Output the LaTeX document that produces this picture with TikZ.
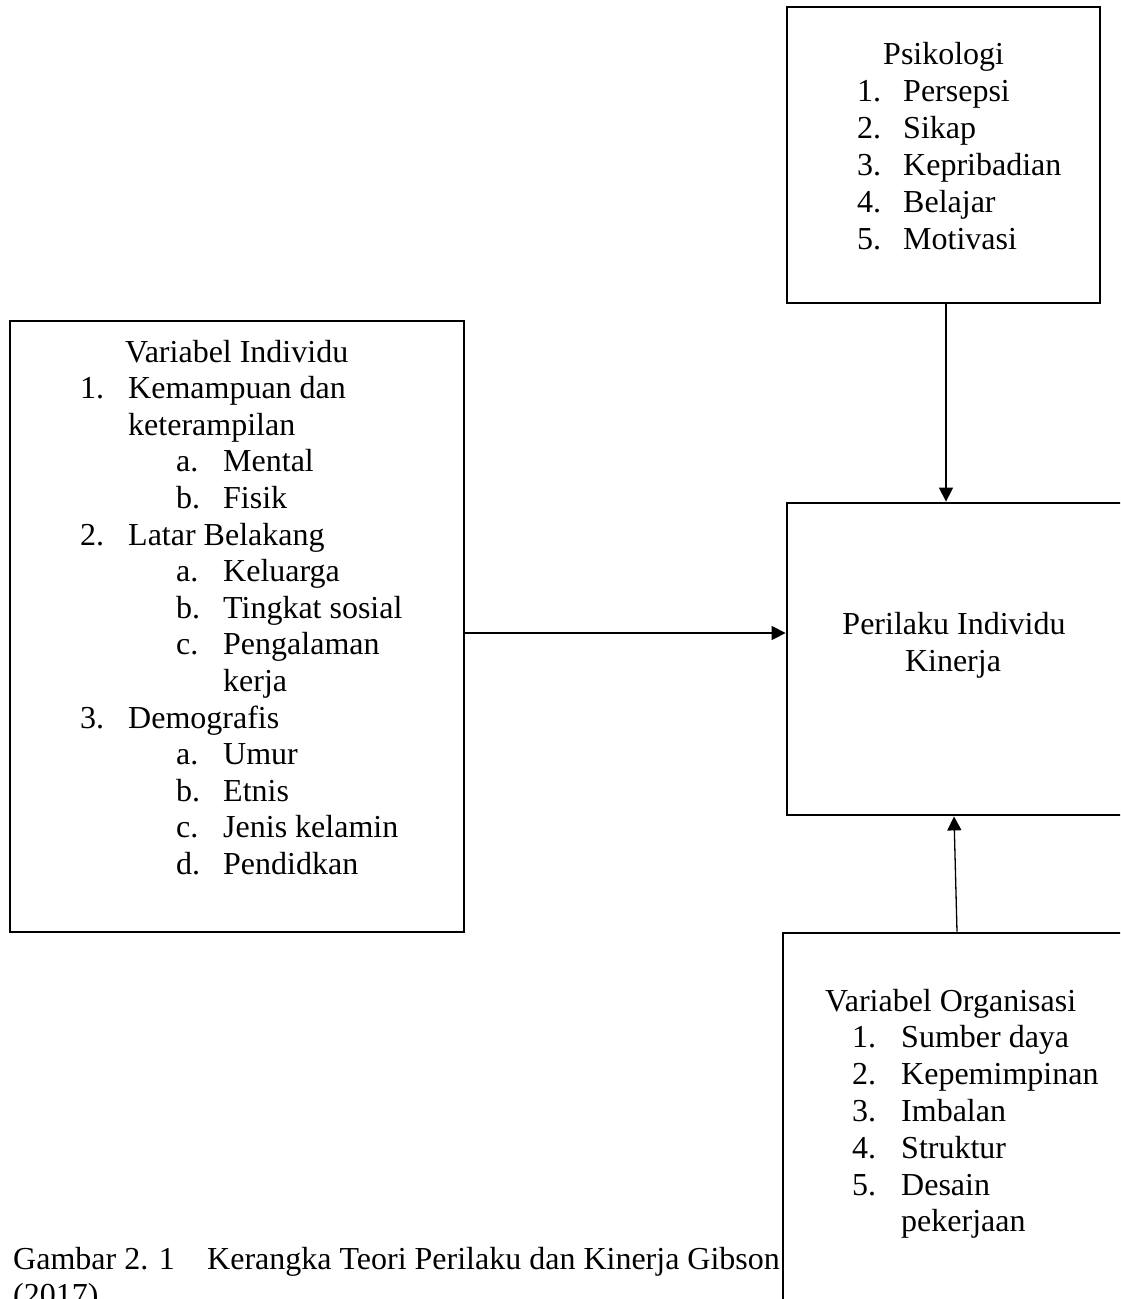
\documentclass[tikz,border=0pt]{standalone}
\usepackage{fontspec}
\setmainfont{Liberation Serif}
\usetikzlibrary{arrows.meta}
\begin{document}
\begin{tikzpicture}[x=1pt,y=-1pt,
  box/.style={draw=black, line width=2.8pt, fill=none, inner sep=0pt, rectangle},
  txt/.style={anchor=base west, inner sep=0pt, font=\fontsize{32}{36.8}\selectfont},
  ctxt/.style={anchor=base, inner sep=0pt, font=\fontsize{32}{36.8}\selectfont},
  arr/.style={line width=1.3pt, -{Triangle[length=14pt,width=14pt]}}]
\useasboundingbox (0,0) rectangle (1120,1299);
\clip (0,0) rectangle (1120,1299);
\fill[white] (0,0) rectangle (1120,1299);
% boxes
\node[box, minimum width=313pt, minimum height=296pt] (psik) at (943.5,155) {};
\node[box, minimum width=454pt, minimum height=611pt] (indiv) at (237,626.5) {};
\node[box, minimum width=338pt, minimum height=312pt] (peri) at (956,659) {};
\node[box, minimum width=357pt, minimum height=400pt] (org) at (961.5,1133) {};
% Psikologi
\node[txt] (p0) at (883,64) {Psikologi};
\node[txt] (p1n) at (857,101) {1.}; \node[txt] (p1) at (903,101) {Persepsi};
\node[txt] (p2n) at (857,138) {2.}; \node[txt] (p2) at (903,138) {Sikap};
\node[txt] (p3n) at (857,175) {3.}; \node[txt] (p3) at (903,175) {Kepribadian};
\node[txt] (p4n) at (857,212) {4.}; \node[txt] (p4) at (903,212) {Belajar};
\node[txt] (p5n) at (857,249) {5.}; \node[txt] (p5) at (903,249) {Motivasi};
% Variabel Individu
\node[txt] (i0) at (125,362) {Variabel Individu};
\node[txt] (i1n) at (80,398.6) {1.}; \node[txt] (i1) at (128,398.6) {Kemampuan dan};
\node[txt] (i1b) at (128,435.2) {keterampilan};
\node[txt] (i1an) at (176,471.8) {a.}; \node[txt] (i1a) at (223,471.8) {Mental};
\node[txt] (i1bn) at (176,508.4) {b.}; \node[txt] (i1bb) at (223,508.4) {Fisik};
\node[txt] (i2n) at (80,545) {2.}; \node[txt] (i2) at (128,545) {Latar Belakang};
\node[txt] (i2an) at (176,581.6) {a.}; \node[txt] (i2a) at (223,581.6) {Keluarga};
\node[txt] (i2bn) at (176,618.2) {b.}; \node[txt] (i2b) at (223,618.2) {Tingkat sosial};
\node[txt] (i2cn) at (176,654.8) {c.}; \node[txt] (i2c) at (223,654.8) {Pengalaman};
\node[txt] (i2d) at (223,691.4) {kerja};
\node[txt] (i3n) at (80,728) {3.}; \node[txt] (i3) at (128,728) {Demografis};
\node[txt] (i3an) at (176,764.6) {a.}; \node[txt] (i3a) at (223,764.6) {Umur};
\node[txt] (i3bn) at (176,801.2) {b.}; \node[txt] (i3b) at (223,801.2) {Etnis};
\node[txt] (i3cn) at (176,837.8) {c.}; \node[txt] (i3c) at (223,837.8) {Jenis kelamin};
\node[txt] (i3dn) at (176,874.4) {d.}; \node[txt] (i3d) at (223,874.4) {Pendidkan};
% Perilaku
\node[ctxt] (k0) at (954,634) {Perilaku Individu};
\node[ctxt] (k1) at (953,671) {Kinerja};
% Organisasi
\node[txt] (o0) at (825,1011) {Variabel Organisasi};
\node[txt] (o1n) at (852,1047.8) {1.}; \node[txt] (o1) at (901,1047.8) {Sumber daya};
\node[txt] (o2n) at (852,1084.6) {2.}; \node[txt] (o2) at (901,1084.6) {Kepemimpinan};
\node[txt] (o3n) at (852,1121.4) {3.}; \node[txt] (o3) at (901,1121.4) {Imbalan};
\node[txt] (o4n) at (852,1158.2) {4.}; \node[txt] (o4) at (901,1158.2) {Struktur};
\node[txt] (o5n) at (852,1195) {5.}; \node[txt] (o5) at (901,1195) {Desain};
\node[txt] (o5b) at (901,1231.8) {pekerjaan};
% caption
\node[txt] (c0) at (13,1269) {Gambar 2. 1};
\node[txt] (c1) at (207,1269) {Kerangka Teori Perilaku dan Kinerja Gibson};
\node[txt] (c2) at (13,1305.8) {(2017)};
% connectors
\draw[arr] ([xshift=2.5pt]psik.south) -- ([xshift=2.5pt]psik.south |- peri.north);
\draw[arr] ([yshift=-6.5pt]indiv.east) -- ([yshift=-6.5pt]indiv.east -| peri.west);
\draw[arr] ([xshift=-4.5pt]org.north) -- ([xshift=-2pt]peri.south);
\end{tikzpicture}
\end{document}
